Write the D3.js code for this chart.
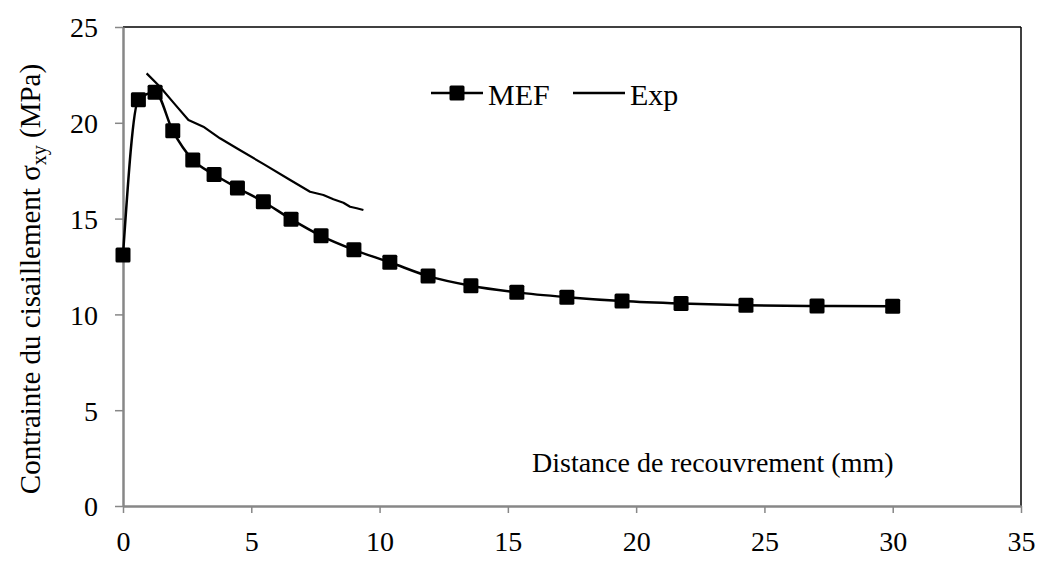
<!DOCTYPE html>
<html><head><meta charset="utf-8">
<script src="https://cdn.jsdelivr.net/npm/d3@7"></script>
<style>body{margin:0;background:#fff}svg{display:block}text{font-family:"Liberation Serif","Times New Roman",serif;fill:#000}</style>
</head><body><svg id="c" width="1039" height="564"></svg>
<script>
const mefX = [0, 0.6, 1.25, 1.94, 2.72, 3.55, 4.46, 5.47, 6.55, 7.72, 9.0, 10.4, 11.89, 13.56, 15.35, 17.3, 19.45, 21.75, 24.28, 27.05, 30.0];
const mefY = [13.1, 21.2, 21.6, 19.58, 18.06, 17.3, 16.6, 15.88, 14.97, 14.1, 13.37, 12.72, 12.0, 11.5, 11.15, 10.9, 10.7, 10.57, 10.48, 10.44, 10.42];
const expX = [0.92, 1.44, 2.0, 2.55, 3.13, 3.78, 4.5, 5.5, 6.5, 7.29, 7.81, 8.2, 8.59, 8.85, 9.11, 9.37];
const expY = [22.58, 21.88, 21.0, 20.15, 19.8, 19.19, 18.62, 17.83, 17.03, 16.4, 16.23, 16.01, 15.83, 15.62, 15.54, 15.45];
const xTicks = [0, 5, 10, 15, 20, 25, 30, 35];
const yTicks = [0, 5, 10, 15, 20, 25];

const svg = d3.select("#c");
const L = 123, R = 1021, T = 27, B = 506;
const x = d3.scaleLinear().domain([0, 35]).range([L, R]);
const y = d3.scaleLinear().domain([0, 25]).range([B, T]);
const grey = "#878787";

// top & right border
svg.append("line").attr("x1", L).attr("x2", R).attr("y1", T).attr("y2", T).attr("stroke", "#000").attr("stroke-width", 1.5);
svg.append("line").attr("x1", R).attr("x2", R).attr("y1", T).attr("y2", B).attr("stroke", "#000").attr("stroke-width", 1.5);

const xAxis = svg.append("g").attr("transform", `translate(0,${B})`)
  .call(d3.axisBottom(x).tickValues(xTicks).tickSize(7).tickSizeOuter(0).tickPadding(18));
const yAxis = svg.append("g").attr("transform", `translate(${L},0)`)
  .call(d3.axisLeft(y).tickValues(yTicks).tickSize(8).tickSizeOuter(0).tickPadding(17));
[xAxis, yAxis].forEach(a => {
  a.select(".domain").attr("stroke", grey).attr("stroke-width", 2.5);
  a.selectAll(".tick line").attr("stroke", grey).attr("stroke-width", 1.5);
  a.selectAll(".tick text").style("font-family", "Liberation Serif").style("font-size", "28px").attr("fill", "#000");
});
xAxis.selectAll(".tick text").attr("dy", "0.71em");
yAxis.selectAll(".tick text").attr("dy", "0.35em");

// data
const mef = mefX.map((v, i) => [v, mefY[i]]);
const exp = expX.map((v, i) => [v, expY[i]]);
const lineM = d3.line().x(d => x(d[0])).y(d => y(d[1])).curve(d3.curveMonotoneX);
const lineE = d3.line().x(d => x(d[0])).y(d => y(d[1]));
svg.append("path").datum(exp).attr("d", lineE).attr("fill", "none").attr("stroke", "#000").attr("stroke-width", 2.2).attr("stroke-linejoin", "round");
svg.append("path").datum(mef).attr("d", lineM).attr("fill", "none").attr("stroke", "#000").attr("stroke-width", 2.5);
const S = 15;
svg.selectAll("rect.m").data(mef).enter().append("rect").attr("class", "m")
  .attr("x", d => x(d[0]) - S / 2).attr("y", d => y(d[1]) - S / 2)
  .attr("width", S).attr("height", S).attr("rx", 1.5).attr("fill", "#000");

// legend
const lg = svg.append("g");
lg.append("line").attr("x1", 431).attr("x2", 483).attr("y1", 93).attr("y2", 93).attr("stroke", "#000").attr("stroke-width", 2.5);
lg.append("rect").attr("x", 457 - S / 2).attr("y", 93 - S / 2).attr("width", S).attr("height", S).attr("rx", 1.5).attr("fill", "#000");
lg.append("text").attr("x", 488).attr("y", 105).style("font-size", "30px").text("MEF");
lg.append("line").attr("x1", 573).attr("x2", 625).attr("y1", 93).attr("y2", 93).attr("stroke", "#000").attr("stroke-width", 2.5);
lg.append("text").attr("x", 630).attr("y", 105).style("font-size", "30px").text("Exp");

// x title (inside plot)
svg.append("text").attr("x", 532).attr("y", 472).style("font-size", "28px").text("Distance de recouvrement (mm)");

// y title
const yt = svg.append("text").attr("transform", "translate(40,279) rotate(-90)").attr("text-anchor", "middle").style("font-size", "29px");
yt.append("tspan").text("Contrainte du cisaillement  σ");
yt.append("tspan").attr("dy", 6).style("font-size", "20px").text("xy");
yt.append("tspan").attr("dy", -6).text(" (MPa)");
</script></body></html>
